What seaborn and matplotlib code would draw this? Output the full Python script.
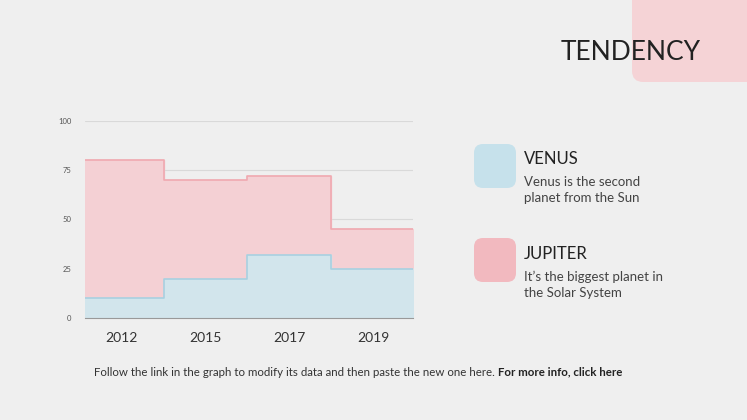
import matplotlib
matplotlib.use("Agg")
import matplotlib.pyplot as plt
import seaborn as sns
import numpy as np
from matplotlib.patches import FancyBboxPatch

categories = ["2012", "2015", "2017", "2019"]
venus = [10, 20, 32, 25]
jupiter = [80, 70, 72, 45]
yticks = [0, 25, 50, 75, 100]

sns.set_style("white")
plt.rcParams['font.family'] = ['Lato', 'DejaVu Sans']
bg = "#efefef"
fig = plt.figure(figsize=(7.47, 4.2), dpi=100, facecolor=bg)
ax = fig.add_axes([0.114, 0.243, 0.439, 0.469], facecolor=bg)

x = np.arange(len(categories))
xs = np.concatenate([[-0.44], x, [3.48]])
def ext(v):
    return np.concatenate([[v[0]], v, [v[-1]]])

ax.fill_between(xs, 0, ext(jupiter), step="mid", color="#f4d0d4", zorder=2)
ax.step(xs, ext(jupiter), where="mid", color="#f0a9b0", lw=1.2, zorder=3)
ax.fill_between(xs, 0, ext(venus), step="mid", color="#d2e5ec", zorder=4)
ax.step(xs, ext(venus), where="mid", color="#a9d0e0", lw=1.2, zorder=5)

ax.set_xlim(-0.44, 3.48)
ax.set_ylim(0, 100)
ax.set_yticks(yticks)
ax.set_yticklabels([str(t) for t in yticks], fontsize=5.5, color="#555555")
ax.set_xticks(x)
ax.set_xticklabels(categories, fontsize=10, color="#333333")
ax.tick_params(axis="both", length=0)
ax.tick_params(axis="x", pad=10)
ax.tick_params(axis="y", pad=10)
ax.grid(axis="y", color="#d9d9d9", lw=0.8, zorder=1)
ax.set_axisbelow(True)
for s in ["top", "right", "left"]:
    ax.spines[s].set_visible(False)
ax.spines["bottom"].set_color("#999999")
ax.spines["bottom"].set_linewidth(0.8)
ax.spines["bottom"].set_zorder(6)

W, H = 747, 420
def box(x0, y0, w, h, color, r):
    p = FancyBboxPatch((x0 / W, 1 - (y0 + h) / H), w / W, h / H,
                       boxstyle=f"round,pad=0,rounding_size={r}",
                       transform=fig.transFigure, color=color, lw=0,
                       mutation_aspect=W / H)
    fig.patches.append(p)

box(632, -20, 140, 102, "#f5d3d6", 0.015)
box(474, 144, 42, 44, "#c6e1eb", 0.012)
box(474, 238, 42, 44, "#f2b9bf", 0.012)

fig.text(631 / W, 1 - 53 / H, "TENDENCY", ha="center", va="center",
         fontsize=19, color="#222222", family=['Liberation Sans Narrow', 'Lato', 'DejaVu Sans'])
fig.text(524 / W, 1 - 159 / H, "VENUS", ha="left", va="center", fontsize=12, color="#222222")
fig.text(524 / W, 1 - 190 / H, "Venus is the second\nplanet from the Sun", ha="left",
         va="center", fontsize=9.5, color="#444444", linespacing=1.35)
fig.text(524 / W, 1 - 254 / H, "JUPITER", ha="left", va="center", fontsize=12, color="#222222")
fig.text(524 / W, 1 - 285 / H, "It\u2019s the biggest planet in\nthe Solar System", ha="left",
         va="center", fontsize=9.5, color="#444444", linespacing=1.35)

t1 = fig.text(94 / W, 1 - 372 / H,
              "Follow the link in the graph to modify its data and then paste the new one here. ",
              ha="left", va="center", fontsize=8.3, color="#333333")
fig.canvas.draw()
bb = t1.get_window_extent()
fig.text(bb.x1 / W, 1 - 372 / H, "For more info, click here", ha="left", va="center",
         fontsize=8.3, color="#222222", fontweight="bold")

fig.savefig("out.png", dpi=100, facecolor=bg)
